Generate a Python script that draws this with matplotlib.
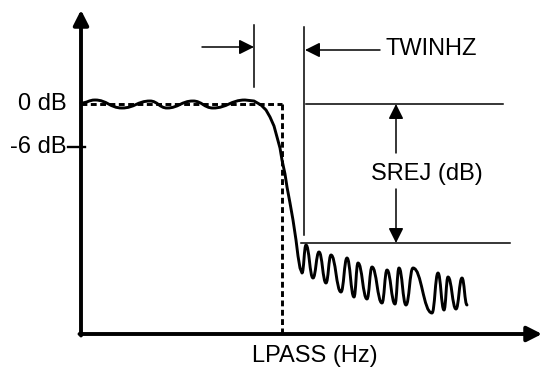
"""Low-pass filter spec sketch: LPASS, TWINHZ, SREJ."""
import matplotlib
matplotlib.use("Agg")
import matplotlib.pyplot as plt
from matplotlib.path import Path
from matplotlib.patches import PathPatch

# diagram drawn in pixel space of the original figure (x right, y down)
W, H = 542, 373

# filter response: passband ripple extrema, roll-off points, stopband ripple extrema
pass_x = [81, 95, 122, 150, 167, 193, 213, 245]
pass_y = [103, 100, 108, 101, 108, 101, 108, 100]
roll_x = [254, 261, 266, 270, 274, 277, 280, 282, 285, 287, 290, 293, 296, 298, 300, 302]
roll_y = [101, 105, 110, 117, 126, 137, 148, 160, 174, 187, 203, 220, 240, 256, 268, 273]
stop_x = [302, 306, 313, 319, 326, 331, 341, 347, 354, 358, 367, 372, 382, 387,
          395, 399, 406, 413, 432, 438, 444, 448, 456, 462, 467]
stop_y = [273, 245, 278, 252, 283, 255, 292, 258, 297, 263, 299, 267, 303, 270,
          304, 268, 305, 268, 313, 273, 310, 277, 309, 278, 305]

# reference levels / markers
y_0db, y_6db, y_srej = 104, 147, 243
x_lpass = 282
x_org, y_org = 81, 334
x_tw1, x_tw2 = 254, 304
x_srej = 396

fig = plt.figure(figsize=(W / 100, H / 100), dpi=100)
ax = fig.add_axes([0, 0, 1, 1])
ax.set_xlim(0, W); ax.set_ylim(H, 0); ax.axis("off")

FONT = "Liberation Sans"
FS = 17


def ripple(xs, ys, verts, codes):
    # smooth segments between extrema, horizontal tangents at each extremum
    for i in range(1, len(xs)):
        x0, y0, x1, y1 = xs[i - 1], ys[i - 1], xs[i], ys[i]
        d = (x1 - x0) * 0.45
        verts += [(x0 + d, y0), (x1 - d, y1), (x1, y1)]
        codes += [Path.CURVE4] * 3


verts = [(pass_x[0], pass_y[0])]
codes = [Path.MOVETO]
ripple(pass_x, pass_y, verts, codes)
for x, y in zip(roll_x, roll_y):
    verts.append((x, y)); codes.append(Path.LINETO)
ripple(stop_x, stop_y, verts, codes)
ax.add_patch(PathPatch(Path(verts, codes), fill=False, lw=2.1, ec="black",
                       capstyle="round", joinstyle="round"))

# axes with arrows
arr_ax = dict(arrowstyle="-|>,head_length=0.75,head_width=0.38", lw=2.8, color="black",
              mutation_scale=12, shrinkA=0, shrinkB=0)
ax.annotate("", xy=(x_org, 10), xytext=(x_org, y_org + 1.5), arrowprops=arr_ax)
ax.annotate("", xy=(W, y_org), xytext=(x_org - 1.5, y_org), arrowprops=arr_ax)

# dashed ideal response
ax.plot([x_org, x_lpass], [y_0db, y_0db], color="black", lw=2.1, dashes=(2.0, 1.2))
ax.plot([x_lpass, x_lpass], [y_0db, y_org], color="black", lw=2.1, dashes=(2.0, 1.2))

# -6 dB tick
ax.plot([68, 85], [y_6db, y_6db], color="black", lw=1.7)

# TWINHZ markers
thin = dict(color="black", lw=1.1)
ax.plot([x_tw1, x_tw1], [25, 87], **thin)
ax.plot([x_tw2, x_tw2], [27, 235], **thin)
arr_thin = dict(arrowstyle="-|>,head_length=0.9,head_width=0.45", lw=1.1, color="black",
                mutation_scale=10, shrinkA=0, shrinkB=0)
ax.annotate("", xy=(x_tw1, 47), xytext=(202, 47), arrowprops=arr_thin)
ax.annotate("", xy=(x_tw2 + 1, 50), xytext=(380, 50), arrowprops=arr_thin)

# SREJ markers
ax.plot([306, 503], [y_0db, y_0db], **thin)
ax.plot([301, 510], [y_srej, y_srej], **thin)
ax.annotate("", xy=(x_srej, y_0db), xytext=(x_srej, 153), arrowprops=arr_thin)
ax.annotate("", xy=(x_srej, y_srej), xytext=(x_srej, 189), arrowprops=arr_thin)

# labels
ax.text(67, y_0db, "0 dB", ha="right", va="center", fontsize=FS, family=FONT)
ax.text(67, y_6db, "-6 dB", ha="right", va="center", fontsize=FS, family=FONT)
ax.text(386, 49, "TWINHZ", ha="left", va="center", fontsize=FS, family=FONT)
ax.text(427, 174, "SREJ (dB)", ha="center", va="center", fontsize=FS, family=FONT)
ax.text(315, 356, "LPASS (Hz)", ha="center", va="center", fontsize=FS, family=FONT)

fig.savefig("out.png", dpi=100)
